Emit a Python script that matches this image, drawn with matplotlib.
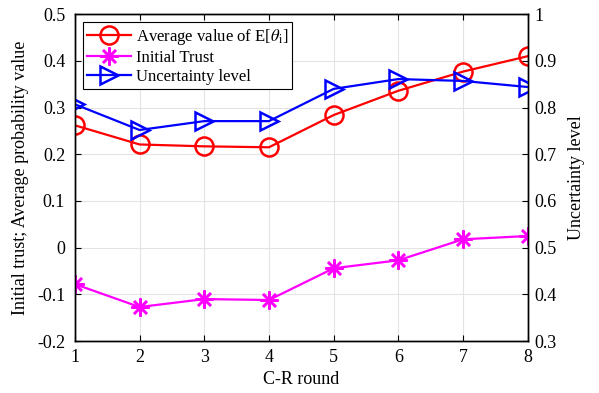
import matplotlib
matplotlib.use("Agg")
import matplotlib.pyplot as plt

plt.rcParams['font.family'] = ['Liberation Serif', 'DejaVu Serif']
plt.rcParams['mathtext.fontset'] = 'stix'

rounds = [1, 2, 3, 4, 5, 6, 7, 8]
avg_theta = [0.262, 0.221, 0.217, 0.215, 0.284, 0.336, 0.377, 0.410]
initial_trust = [-0.078, -0.127, -0.110, -0.112, -0.044, -0.027, 0.018, 0.025]
uncertainty = [0.807, 0.752, 0.771, 0.771, 0.840, 0.861, 0.857, 0.844]

fig = plt.figure(figsize=(5.99, 3.93), dpi=100)
ax = fig.add_axes([0.125, 0.132, 0.756, 0.832])
ax2 = ax.twinx()

l1, = ax.plot(rounds, avg_theta, color='red', lw=1.6, marker='o', ms=13,
              mfc='none', mew=1.8, label=r'Average value of E[$\theta_{\rm i}$]')
l2, = ax.plot(rounds, initial_trust, color='magenta', lw=1.6, marker=(8, 2, 0),
              ms=13, mew=1.8, label='Initial Trust')
l3, = ax2.plot(rounds, uncertainty, color='blue', lw=1.6, marker='>', ms=13,
               mfc='none', mew=1.8, label='Uncertainty level')

ax.set_xlim(1, 8)
ax.set_ylim(-0.2, 0.5)
ax2.set_ylim(0.3, 1.0)
ax.set_xticks(rounds)
ax.set_yticks([-0.2, -0.1, 0, 0.1, 0.2, 0.3, 0.4, 0.5])
ax.set_yticklabels(['-0.2', '-0.1', '0', '0.1', '0.2', '0.3', '0.4', '0.5'])
ax2.set_yticks([0.3, 0.4, 0.5, 0.6, 0.7, 0.8, 0.9, 1.0])
ax2.set_yticklabels(['0.3', '0.4', '0.5', '0.6', '0.7', '0.8', '0.9', '1'])

ax.grid(True, color='#e3e3e3', lw=0.8)
ax.set_axisbelow(True)
ax.tick_params(axis='x', direction='in', labelsize=13, top=True, length=4, pad=6)
ax.tick_params(axis='y', direction='in', labelsize=13, length=4, pad=7)
ax2.tick_params(direction='in', labelsize=13, length=4, pad=5)
for a in (ax, ax2):
    for s in a.spines.values():
        s.set_linewidth(1.0)

ax.set_xlabel('C-R round', fontsize=13, labelpad=3)
ax.set_ylabel('Initial trust; Average probability value', fontsize=13, labelpad=6)
ax2.set_ylabel('Uncertainty level', fontsize=13, labelpad=8)

leg = ax.legend(handles=[l1, l2, l3], loc='upper left', fontsize=12,
                fancybox=False, edgecolor='black', framealpha=1,
                borderpad=0.25, labelspacing=0.2, handlelength=2.6,
                handletextpad=0.3, borderaxespad=0.5)
leg.get_frame().set_linewidth(0.8)

fig.savefig('out.png', dpi=100)
